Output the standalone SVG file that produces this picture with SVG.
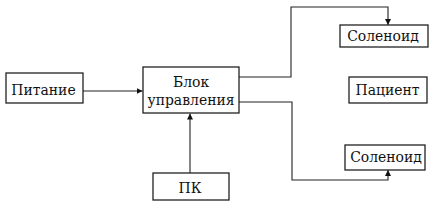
<svg xmlns="http://www.w3.org/2000/svg" width="438" height="209" viewBox="0 0 438 209">
<style>
.box{fill:#fff;stroke:#222;stroke-width:1.3}
.t{font-family:"DejaVu Serif Condensed","DejaVu Serif",serif;font-stretch:condensed;font-size:15.5px;fill:#111;text-anchor:middle}
.c{fill:none;stroke:#222;stroke-width:1.1}
</style>
<defs>
<marker id="ah" viewBox="0 0 10 10" refX="10" refY="5" markerWidth="6" markerHeight="6" orient="auto" markerUnits="userSpaceOnUse">
<path d="M0,0 L10,5 L0,10 z" fill="#111"/>
</marker>
</defs>
<rect width="438" height="209" fill="#fff"/>
<g id="connectors">
<path class="c" d="M83,91 L142.5,91" marker-end="url(#ah)"/>
<path class="c" d="M239,77 L291,77 L291,7 L388,7 L388,25" marker-end="url(#ah)"/>
<path class="c" d="M239,102 L292,102 L292,180 L388,180 L388,170" marker-end="url(#ah)"/>
<path class="c" d="M190,173 L190,113.5" marker-end="url(#ah)"/>
</g>
<g id="pitanie"><rect class="box" x="6" y="73" width="77" height="30"/><text class="t" x="43.5" y="95">Питание</text></g>
<g id="blok"><rect class="box" x="143" y="67" width="96" height="46"/><text class="t" x="191" y="87">Блок</text><text class="t" x="191" y="105">управления</text></g>
<g id="solenoid1"><rect class="box" x="340" y="25" width="88" height="22"/><text class="t" x="383" y="41">Соленоид</text></g>
<g id="pacient"><rect class="box" x="349" y="77" width="78" height="26"/><text class="t" x="387.5" y="95">Пациент</text></g>
<g id="solenoid2"><rect class="box" x="345" y="145" width="80" height="25"/><text class="t" x="386" y="162">Соленоид</text></g>
<g id="pk"><rect class="box" x="153" y="173" width="76" height="27"/><text class="t" x="190" y="193">ПК</text></g>
</svg>
